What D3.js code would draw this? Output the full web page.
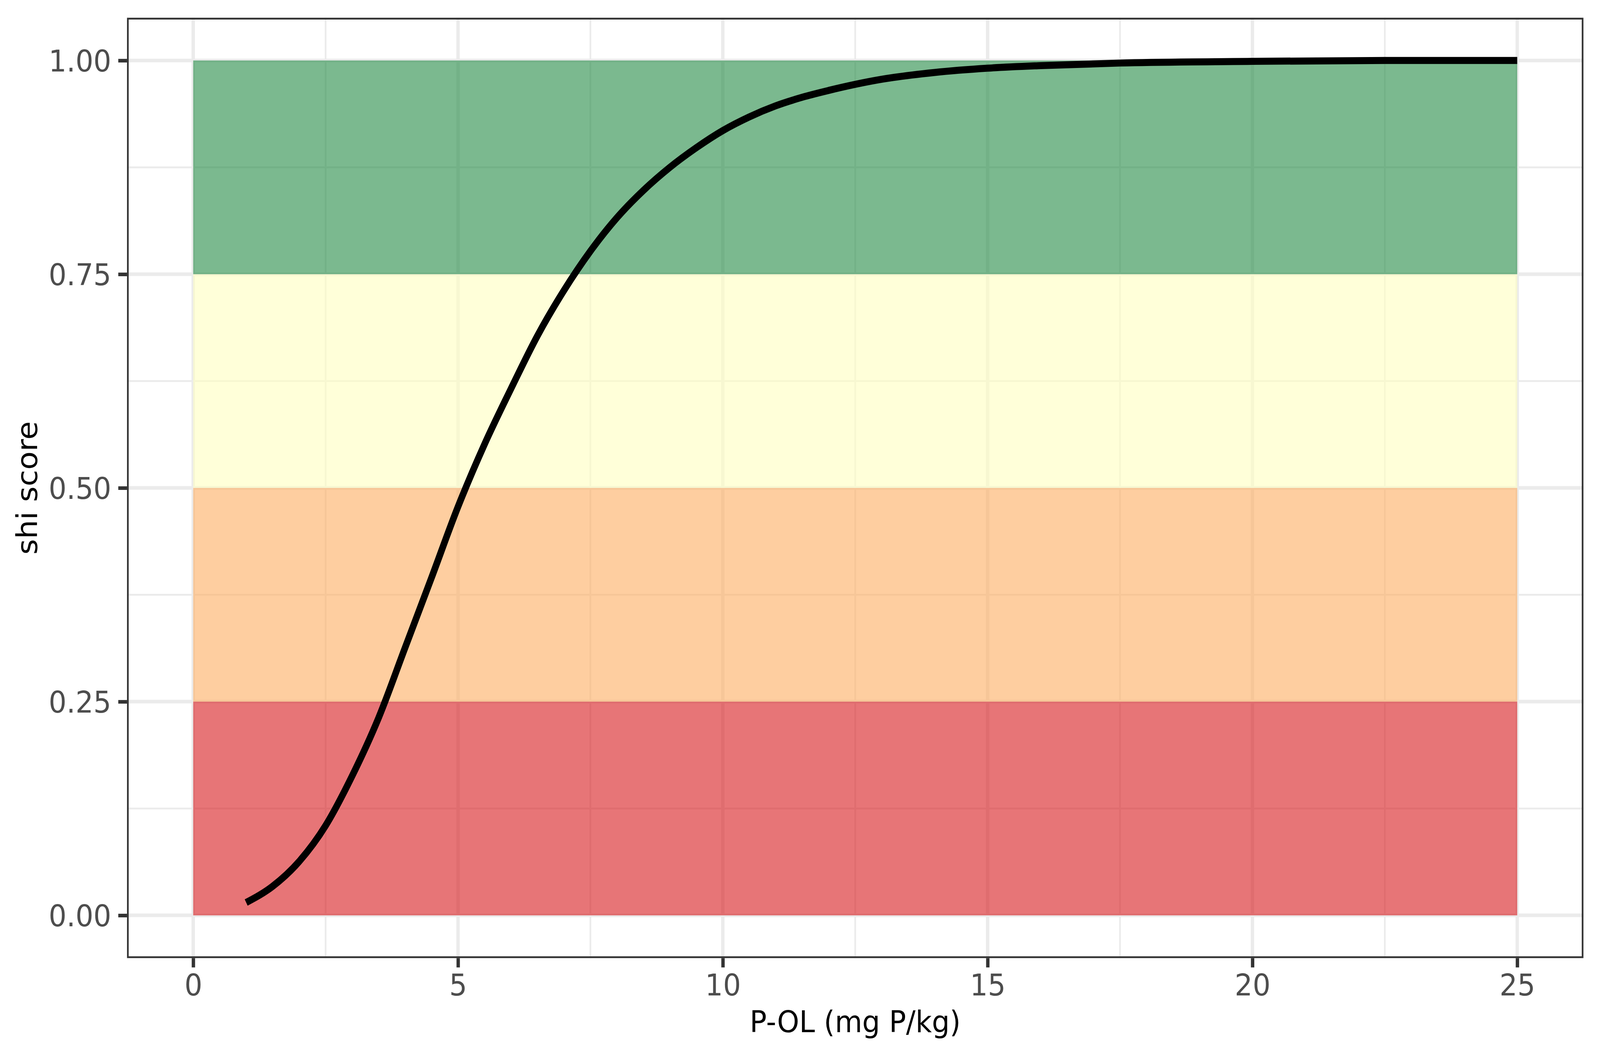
<!DOCTYPE html>
<html lang="en">
<head>
 <meta charset="UTF-8" />
 <title>shi score - P-OL</title>
 <script src="https://d3js.org/d3.v7.min.js"></script>
 <style>
   html, body { margin: 0; padding: 0; overflow: hidden; background: #fff; }
   svg { display: block; width: 100vw; height: 100vh; background-color: #fff; font-family: "DejaVu Sans", sans-serif; }
 </style>
</head>
<body>
 <svg id="chart" viewBox="0 0 4375 2703" preserveAspectRatio="none"></svg>

 <script>
   // tick labels / breaks
   const xTicks = [0, 5, 10, 15, 20, 25];
   const yTicks = [0, 0.25, 0.5, 0.75, 1];
   const xMinor = [2.5, 7.5, 12.5, 17.5, 22.5];
   const yMinor = [0.125, 0.375, 0.625, 0.875];

   // score bands (drawn from x = 0 to 25)
   const bandFrom  = [0, 0.25, 0.5, 0.75];
   const bandTo    = [0.25, 0.5, 0.75, 1];
   const bandColor = ["#d7191c", "#fdae61", "#ffffbf", "#238b45"];
   const bandX     = [0, 25];

   // curve
   const curveX = [1, 1.5, 2, 2.5, 3, 3.5, 4, 4.5, 5, 5.5, 6, 6.5, 7, 7.5, 8, 8.5, 9, 9.5, 10,
                   10.5, 11, 11.5, 12, 13, 14, 15, 16, 17.5, 20, 22.5, 25];
   const curveY = [0.015, 0.034, 0.063, 0.105, 0.163, 0.231, 0.313, 0.395, 0.478, 0.551, 0.616,
                   0.678, 0.731, 0.777, 0.816, 0.848, 0.875, 0.898, 0.918,
                   0.934, 0.947, 0.957, 0.965, 0.978, 0.986, 0.991, 0.994, 0.997, 0.999, 1.0, 1.0];

   const svg = d3.select("#chart");

   // panel box in pixels
   const panel = { left: 347.3, right: 4329.7, top: 45.4, bottom: 2452.4 };

   const x = d3.scaleLinear().domain([-1.25, 26.25]).range([panel.left, panel.right]);
   const y = d3.scaleLinear().domain([-0.05, 1.05]).range([panel.bottom, panel.top]);

   const gridCol = "#EBEBEB";
   const majorW = 9.25, minorW = 4.6;

   // grid
   const grid = svg.append("g");
   grid.selectAll(".ymin").data(yMinor).enter().append("line")
     .attr("x1", panel.left).attr("x2", panel.right)
     .attr("y1", d => y(d)).attr("y2", d => y(d))
     .attr("stroke", gridCol).attr("stroke-width", minorW);
   grid.selectAll(".xmin").data(xMinor).enter().append("line")
     .attr("y1", panel.top).attr("y2", panel.bottom)
     .attr("x1", d => x(d)).attr("x2", d => x(d))
     .attr("stroke", gridCol).attr("stroke-width", minorW);
   grid.selectAll(".ymaj").data(yTicks).enter().append("line")
     .attr("x1", panel.left).attr("x2", panel.right)
     .attr("y1", d => y(d)).attr("y2", d => y(d))
     .attr("stroke", gridCol).attr("stroke-width", majorW);
   grid.selectAll(".xmaj").data(xTicks).enter().append("line")
     .attr("y1", panel.top).attr("y2", panel.bottom)
     .attr("x1", d => x(d)).attr("x2", d => x(d))
     .attr("stroke", gridCol).attr("stroke-width", majorW);

   // bands
   svg.append("g").selectAll("rect")
     .data(bandFrom.map((f, i) => ({ from: f, to: bandTo[i], color: bandColor[i] })))
     .enter().append("rect")
       .attr("x", x(bandX[0]))
       .attr("width", x(bandX[1]) - x(bandX[0]))
       .attr("y", d => y(d.to))
       .attr("height", d => y(d.from) - y(d.to))
       .attr("fill", d => d.color)
       .attr("fill-opacity", 0.6);

   // curve
   const line = d3.line()
     .curve(d3.curveMonotoneX)
     .x(d => x(d[0]))
     .y(d => y(d[1]));

   svg.append("path")
     .datum(curveX.map((v, i) => [v, curveY[i]]))
     .attr("fill", "none")
     .attr("stroke", "#000")
     .attr("stroke-width", 18)
     .attr("stroke-linecap", "butt")
     .attr("stroke-linejoin", "round")
     .attr("d", line);

   // panel border (inner half only, like a clipped ggplot border)
   svg.append("rect")
     .attr("x", panel.left + minorW / 2)
     .attr("y", panel.top + minorW / 2)
     .attr("width", panel.right - panel.left - minorW)
     .attr("height", panel.bottom - panel.top - minorW)
     .attr("fill", "none")
     .attr("stroke", "#333333")
     .attr("stroke-width", minorW);

   // axes
   const tickLen = 23.9;
   const xAxis = d3.axisBottom(x).tickValues(xTicks).tickFormat(d3.format("d"))
     .tickSizeInner(tickLen).tickSizeOuter(0).tickPadding(19);
   const yAxis = d3.axisLeft(y).tickValues(yTicks).tickFormat(d3.format(".2f"))
     .tickSizeInner(tickLen).tickSizeOuter(0).tickPadding(19);

   const gx = svg.append("g")
     .attr("transform", `translate(0,${panel.bottom})`)
     .call(xAxis);
   const gy = svg.append("g")
     .attr("transform", `translate(${panel.left},0)`)
     .call(yAxis);

   [gx, gy].forEach(g => {
     g.select(".domain").remove();
     g.selectAll(".tick line").attr("stroke", "#333333").attr("stroke-width", majorW);
     g.selectAll(".tick text")
       .attr("fill", "#4D4D4D")
       .attr("font-size", "77px")
       .attr("font-family", "DejaVu Sans");
   });
   gx.selectAll(".tick text").attr("dy", null)
     .attr("y", 2548.5 - panel.bottom);
   gy.selectAll(".tick text").attr("dy", "0.36em");

   // axis titles
   svg.append("text")
     .attr("x", (panel.left + panel.right) / 2)
     .attr("y", 2642)
     .attr("text-anchor", "middle")
     .attr("font-size", "77px")
     .attr("fill", "#000")
     .text("P-OL (mg P/kg)");

   svg.append("text")
     .attr("transform", `translate(102,${(panel.top + panel.bottom) / 2}) rotate(-90)`)
     .attr("text-anchor", "middle")
     .attr("font-size", "77px")
     .attr("fill", "#000")
     .text("shi score");
 </script>
</body>
</html>
